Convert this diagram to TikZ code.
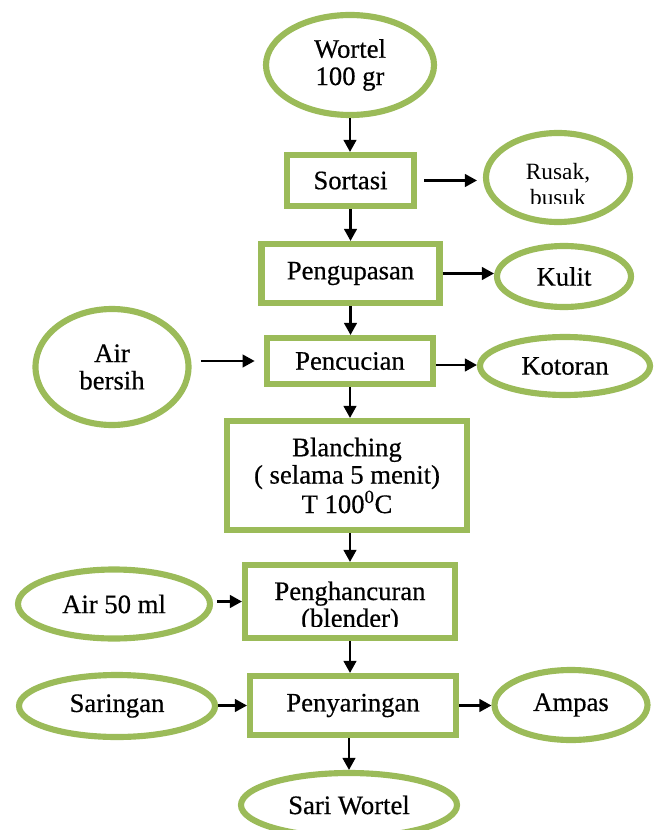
\documentclass[tikz,border=0pt]{standalone}
\usepackage{fontspec}
\setmainfont{Liberation Serif}
\newfontfamily\heavyserif{Liberation Serif}[FakeBold=0.5]
\usetikzlibrary{shapes.geometric,arrows.meta,calc}
\definecolor{olivegreen}{HTML}{9BBB59}
\begin{document}
\begin{tikzpicture}[x=0.75pt,y=-0.75pt,
  mainfont/.style={font=\heavyserif\fontsize{20}{20.5}\selectfont},
  box/.style={draw=olivegreen,line width=4.6pt,rectangle,inner sep=0pt,align=center,mainfont},
  oval/.style={draw=olivegreen,line width=4.6pt,ellipse,inner sep=0pt,align=center,mainfont},
  arr/.style={line width=1.6pt,-{Triangle[length=9pt,width=9.5pt]}},
  lbl/.style={inner sep=0pt,anchor=base}
]
\useasboundingbox (0,0) rectangle (654,830);
\clip (0,0) rectangle (654,830);

% main column
\node[oval,minimum width=126pt,minimum height=75pt] (wortel) at (350,65) {Wortel\\100 gr};
\node[box,minimum width=95.25pt,minimum height=38.25pt] (sortasi) at (350.5,180.5) {Sortasi};
\node[box,minimum width=133.5pt,minimum height=44.25pt] (pengupasan) at (350.5,273.5) {Pengupasan};
\node[box,minimum width=124.5pt,minimum height=34.5pt] (pencucian) at (350,361) {Pencucian};
\node[box,minimum width=180pt,minimum height=81.75pt] (blanching) at (347,475.5) {Blanching\\( selama 5 menit)\\T 100\textsuperscript{0}C};
\node[box,minimum width=157.5pt,minimum height=54.75pt] (penghancuran) at (350,601.5) {};
\node[box,minimum width=154.5pt,minimum height=44.25pt] (penyaringan) at (353,705.5) {Penyaringan};
\node[oval,minimum width=162pt,minimum height=48pt] (sari) at (349,805) {Sari Wortel};

% side ovals
\node[oval,minimum width=108pt,minimum height=66.75pt] (rusak) at (558,177.5) {};
\node[oval,minimum width=100.5pt,minimum height=45.75pt] (kulit) at (564,276.5) {Kulit};
\node[oval,minimum width=114.75pt,minimum height=87pt] (airbersih) at (112,367) {Air\\bersih};
\node[oval,minimum width=127.5pt,minimum height=43.5pt] (kotoran) at (565,366) {Kotoran};
\node[oval,minimum width=144pt,minimum height=51.75pt] (air50) at (114,604) {Air 50 ml};
\node[oval,minimum width=147pt,minimum height=46.5pt] (saringan) at (117,706) {Saringan};
\node[oval,minimum width=114.75pt,minimum height=52.5pt] (ampas) at (571,705) {Ampas};

% clipped texts
\begin{scope}
  \clip (490,130) rectangle (630,204);
  \node[lbl,font=\fontsize{17.5}{17.5}\selectfont] (rusakA) at (558,180) {Rusak,};
  \node[lbl,font=\fontsize{17.5}{17.5}\selectfont] (rusakB) at (558,206) {busuk};
\end{scope}
\begin{scope}
  \clip (250,570) rectangle (452,626);
  \node[lbl,mainfont] (penghA) at (350,600) {Penghancuran};
  \node[lbl,mainfont] (penghB) at (350,627) {(blender)};
\end{scope}

% vertical arrows
\draw[arr] (wortel.south) -- (wortel.south |- sortasi.north);
\draw[arr] (sortasi.south) -- (sortasi.south |- pengupasan.north);
\draw[arr] (pengupasan.south) -- (pengupasan.south |- pencucian.north);
\draw[arr] (pencucian.south) -- (pencucian.south |- blanching.north);
\draw[arr] (blanching.south -| penghancuran.south) -- (penghancuran.north);
\draw[arr] (penghancuran.south) -- (penghancuran.south |- penyaringan.north);
\draw[arr] (penyaringan.south -| sari.north) -- (sari.north);

% horizontal arrows
\draw[arr,shorten <=5.25pt,shorten >=4.5pt] (sortasi.east) -- (sortasi.east -| rusak.west);
\draw[arr] (pengupasan.east) -- (pengupasan.east -| kulit.west);
\draw[arr,shorten <=7pt,shorten >=7pt] (airbersih.east |- pencucian.west) -- (pencucian.west);
\draw[arr] ($(pencucian.east)+(0,4)$) -- ($(pencucian.east -| kotoran.west)+(0,4)$);
\draw[arr,shorten <=3pt] (air50.east |- penghancuran.west) -- (penghancuran.west);
\draw[arr] (saringan.east |- penyaringan.west) -- (penyaringan.west);
\draw[arr] (penyaringan.east) -- (penyaringan.east -| ampas.west);
\end{tikzpicture}
\end{document}
